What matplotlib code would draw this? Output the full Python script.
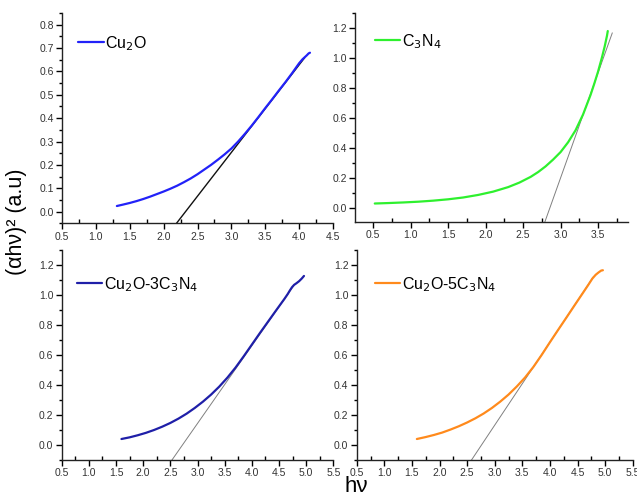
import matplotlib
matplotlib.use("Agg")
import matplotlib.pyplot as plt
from matplotlib.ticker import MultipleLocator, FormatStrFormatter

plt.rcParams['font.family'] = ['Liberation Sans', 'DejaVu Sans']

# ---- data ----
cu2o_x = [1.31, 1.40, 1.50, 1.60, 1.70, 1.80, 1.90, 2.00, 2.10, 2.20, 2.30, 2.40, 2.50,
          2.60, 2.70, 2.80, 2.90, 3.00, 3.10, 3.20, 3.30, 3.40, 3.50, 3.60, 3.70, 3.80,
          3.90, 4.00, 4.05, 4.08, 4.11, 4.14, 4.16]
cu2o_y = [0.024, 0.030, 0.037, 0.045, 0.054, 0.064, 0.075, 0.086, 0.098, 0.111, 0.126,
          0.142, 0.160, 0.180, 0.200, 0.222, 0.245, 0.270, 0.300, 0.333, 0.368, 0.405,
          0.443, 0.480, 0.518, 0.555, 0.594, 0.635, 0.652, 0.660, 0.668, 0.677, 0.680]
cu2o_fit_x = [2.19, 4.08]
cu2o_fit_y = [-0.05, 0.658]

c3n4_x = [0.52, 0.70, 0.90, 1.10, 1.30, 1.50, 1.70, 1.90, 2.10, 2.30, 2.45, 2.60, 2.70,
          2.80, 2.90, 3.00, 3.10, 3.20, 3.30, 3.40, 3.45, 3.50, 3.55, 3.59, 3.62, 3.63]
c3n4_y = [0.033, 0.036, 0.040, 0.045, 0.052, 0.061, 0.073, 0.090, 0.112, 0.142, 0.172,
          0.210, 0.242, 0.280, 0.325, 0.375, 0.440, 0.520, 0.625, 0.755, 0.830, 0.910,
          1.000, 1.080, 1.150, 1.180]
c3n4_fit_x = [2.79, 3.69]
c3n4_fit_y = [-0.09, 1.167]

m3_x = [1.60, 1.75, 1.90, 2.05, 2.20, 2.35, 2.50, 2.65, 2.80, 2.95, 3.10, 3.25, 3.40,
        3.55, 3.70, 3.85, 4.00, 4.15, 4.30, 4.45, 4.60, 4.66, 4.70, 4.74, 4.78, 4.82,
        4.87, 4.92, 4.96]
m3_y = [0.040, 0.051, 0.065, 0.081, 0.100, 0.122, 0.147, 0.176, 0.209, 0.247, 0.289,
        0.336, 0.389, 0.449, 0.516, 0.591, 0.669, 0.747, 0.823, 0.899, 0.974, 1.006,
        1.030, 1.052, 1.068, 1.078, 1.092, 1.110, 1.127]
m3_fit_x = [2.53, 4.76]
m3_fit_y = [-0.10, 1.056]

m5_x = [1.59, 1.75, 1.90, 2.05, 2.20, 2.35, 2.50, 2.65, 2.80, 2.95, 3.10, 3.25, 3.40,
        3.55, 3.70, 3.85, 4.00, 4.15, 4.30, 4.45, 4.60, 4.70, 4.77, 4.83, 4.88, 4.93, 4.96]
m5_y = [0.040, 0.053, 0.067, 0.083, 0.103, 0.125, 0.150, 0.178, 0.210, 0.247, 0.289,
        0.336, 0.390, 0.450, 0.520, 0.600, 0.685, 0.768, 0.850, 0.933, 1.015, 1.070,
        1.110, 1.135, 1.150, 1.163, 1.165]
m5_fit_x = [2.58, 4.79]
m5_fit_y = [-0.10, 1.122]

labels = ['Cu$_2$O', 'C$_3$N$_4$', 'Cu$_2$O-3C$_3$N$_4$', 'Cu$_2$O-5C$_3$N$_4$']
colors = ['#2222f8', '#2ef02e', '#1f1fa8', '#ff8a1c']
fit_colors = ['#111111', '#808080', '#808080', '#808080']
fit_lw = [1.0, 0.7, 0.7, 0.7]

W, H = 637, 493
fig = plt.figure(figsize=(W / 100, H / 100), dpi=100)

def px_axes(l, r, t, b):
    return fig.add_axes([l / W, 1 - b / H, (r - l) / W, (b - t) / H])

axes = [
    px_axes(62, 333, 13, 223.3),
    px_axes(355, 628, 13, 222),
    px_axes(61.7, 333.3, 250, 460),
    px_axes(356.7, 632.7, 250, 460),
]
xlims = [(0.5, 4.5), (0.256, 3.9), (0.5, 5.5), (0.5, 5.5)]
ylims = [(-0.05, 0.85), (-0.09, 1.3), (-0.1, 1.3), (-0.1, 1.3)]
ymaj = [0.1, 0.2, 0.2, 0.2]
series = [(cu2o_x, cu2o_y, cu2o_fit_x, cu2o_fit_y),
          (c3n4_x, c3n4_y, c3n4_fit_x, c3n4_fit_y),
          (m3_x, m3_y, m3_fit_x, m3_fit_y),
          (m5_x, m5_y, m5_fit_x, m5_fit_y)]
leg_anchor = [(0.059, 0.90), (0.073, 0.909), (0.056, 0.881), (0.066, 0.881)]

for i, ax in enumerate(axes):
    x, y, fx, fy = series[i]
    ax.plot(fx, fy, color=fit_colors[i], lw=fit_lw[i], zorder=2)
    ax.plot(x, y, color=colors[i], lw=1.6, label=labels[i], zorder=3,
            solid_joinstyle='round', solid_capstyle='round')
    ax.set_xlim(*xlims[i])
    ax.set_ylim(*ylims[i])
    ax.xaxis.set_major_locator(MultipleLocator(0.5))
    ax.xaxis.set_minor_locator(MultipleLocator(0.25))
    ax.yaxis.set_major_locator(MultipleLocator(ymaj[i]))
    ax.yaxis.set_minor_locator(MultipleLocator(ymaj[i] / 2))
    ax.xaxis.set_major_formatter(FormatStrFormatter('%.1f'))
    ax.yaxis.set_major_formatter(FormatStrFormatter('%.1f'))
    for s in ['top', 'right']:
        ax.spines[s].set_visible(False)
    for s in ['left', 'bottom']:
        ax.spines[s].set_linewidth(1.0)
        ax.spines[s].set_color('#222222')
    ax.tick_params(axis='x', which='major', direction='out', length=4, width=1,
                   labelsize=7.5, labelcolor='#333333', pad=2)
    ax.tick_params(axis='x', which='minor', direction='in', length=3, width=1)
    ax.tick_params(axis='y', which='major', direction='out', length=4, width=1,
                   labelsize=7.5, labelcolor='#333333', pad=2)
    ax.tick_params(axis='y', which='minor', direction='out', length=2, width=1)
    ax.legend(loc='upper left', bbox_to_anchor=leg_anchor[i], frameon=False,
              fontsize=11.5, handlelength=1.6, handletextpad=0.1,
              borderpad=0, borderaxespad=0)

fig.text(17 / W, 1 - 222 / H, '(αhν)² (a.u)', rotation=90, ha='center', va='center',
         fontsize=15.5)
fig.text(356 / W, 1 - 492 / H, 'hν', ha='center', va='baseline', fontsize=16)

fig.savefig('out.png', dpi=100)
